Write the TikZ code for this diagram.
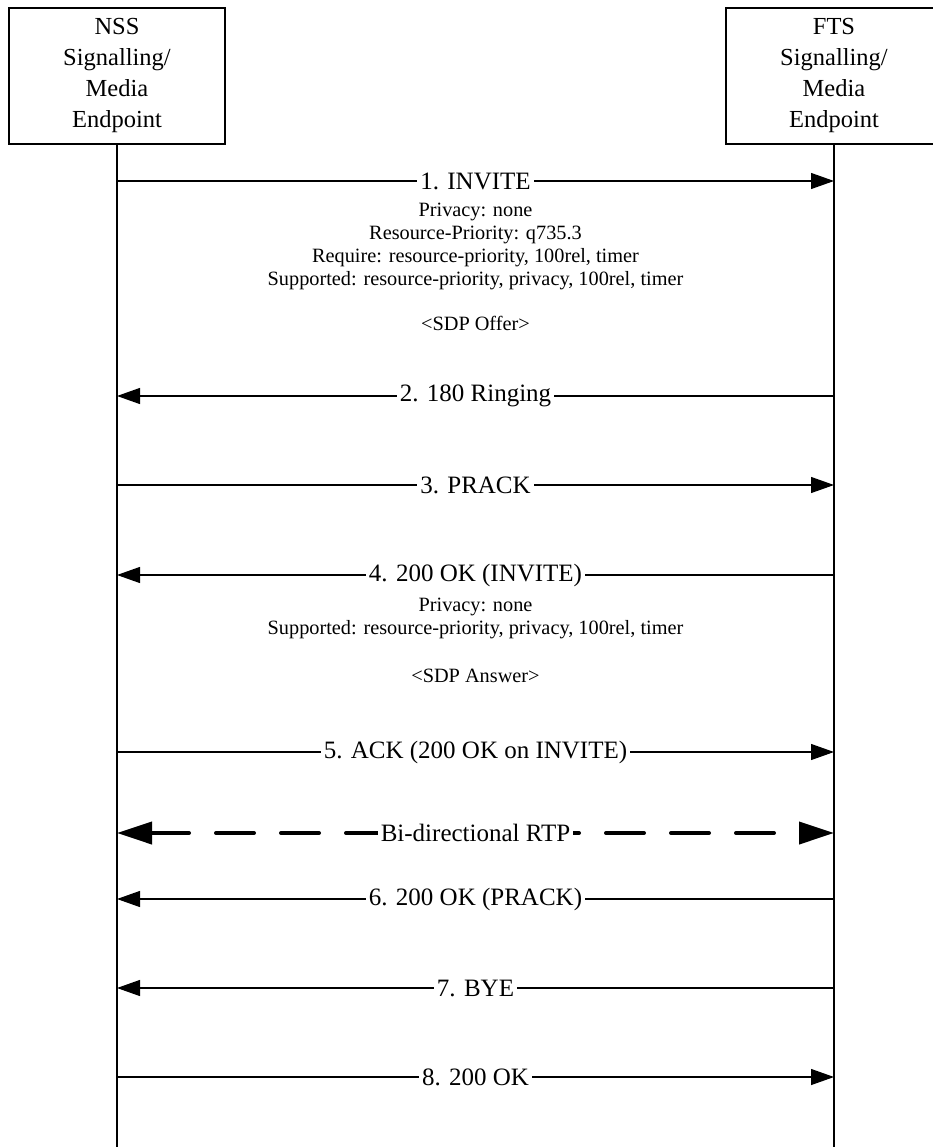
\documentclass[tikz,border=0pt]{standalone}
\usepackage{fontspec}
\setmainfont{Liberation Serif}
\usetikzlibrary{arrows.meta, positioning}

\begin{document}
\begin{tikzpicture}[x=1pt, y=-1pt, box/.style={draw, line width=1.2pt, minimum width=216pt, minimum height=136pt, align=center, font=\fontsize{24.5}{31}\selectfont}, life/.style={line width=2.8pt}, msg/.style={-{Triangle[length=23pt, width=16pt]}, line width=1.2pt}, rtp/.style={{Triangle[length=35pt, width=22pt]}-{Triangle[length=35pt, width=22pt]}, line width=4pt, line cap=round, dash pattern=on 38pt off 27pt}, lbl/.style={fill=white, inner sep=3pt, font=\fontsize{25}{28}\selectfont}, info/.style={align=center, inner sep=0pt, font=\fontsize{20.3}{23}\selectfont}]
\useasboundingbox (0,0) rectangle (932,1147);
\node[box] (nss) at (117,76) {NSS\\Signalling/\\Media\\Endpoint};
\node[box] (fts) at (834,76) {FTS\\Signalling/\\Media\\Endpoint};
\coordinate (nssend) at (117,1147);
\coordinate (ftsend) at (834,1147);
\draw[life] (nss.south) -- (nssend);
\draw[life] (fts.south) -- (ftsend);
% points on the two lifelines
\foreach \k/\y in {1/181, 2/396, 3/485, 4/575, 5/752, r/833, 6/899, 7/988, 8/1077} {
  \coordinate (n\k) at (117,\y);
  \coordinate (f\k) at (834,\y);
}
\draw[msg] (n1) -- node[lbl] (m1) {1. INVITE} (f1);
\node[info, below=10pt of m1] (m1info) {Privacy: none\\Resource-Priority: q735.3\\Require: resource-priority, 100rel, timer\\Supported: resource-priority, privacy, 100rel, timer\\[22pt]<SDP Offer>};
\draw[msg] (f2) -- node[lbl] (m2) {2. 180 Ringing} (n2);
\draw[msg] (n3) -- node[lbl] (m3) {3. PRACK} (f3);
\draw[msg] (f4) -- node[lbl] (m4) {4. 200 OK (INVITE)} (n4);
\node[info, below=8pt of m4] (m4info) {Privacy: none\\Supported: resource-priority, privacy, 100rel, timer\\[25pt]<SDP Answer>};
\draw[msg] (n5) -- node[lbl] (m5) {5. ACK (200 OK on INVITE)} (f5);
\draw[rtp] (nr) -- node[lbl] (mr) {Bi-directional RTP} (fr);
\draw[msg] (f6) -- node[lbl] (m6) {6. 200 OK (PRACK)} (n6);
\draw[msg] (f7) -- node[lbl] (m7) {7. BYE} (n7);
\draw[msg] (n8) -- node[lbl] (m8) {8. 200 OK} (f8);
\end{tikzpicture}
\end{document}
